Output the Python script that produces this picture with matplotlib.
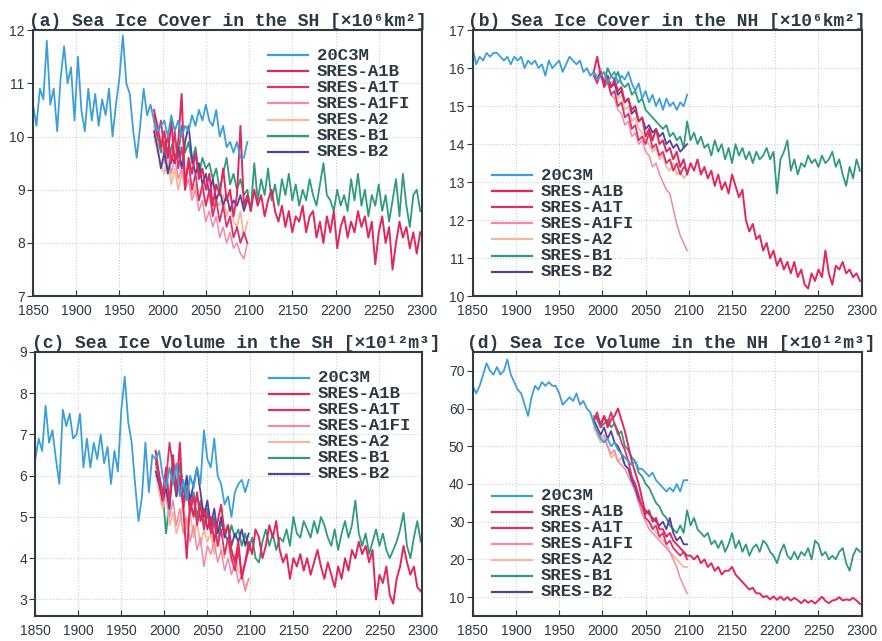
import matplotlib
matplotlib.use('Agg')
import matplotlib.pyplot as plt

# years (every 4th year)
yr_hist = list(range(1850, 2099, 4))
yr_long = list(range(1990, 2299, 4))
yr_short = list(range(1990, 2099, 4))

scenarios = ['20C3M', 'SRES-A1B', 'SRES-A1T', 'SRES-A1FI', 'SRES-A2', 'SRES-B1', 'SRES-B2']
colors = ['#3d9fd8', '#e0285a', '#d8336e', '#f08aa8', '#f2b99a', '#2f9a7e', '#54409e']

# (a) sea ice cover SH
sh_cover_hist = [10.6, 10.2, 10.9, 10.7, 11.8, 10.6, 10.9, 10.1, 11.1, 11.7,
                 11.0, 11.3, 10.3, 11.5, 10.5, 10.1, 10.9, 10.3, 10.8, 10.2,
                 10.7, 10.4, 10.9, 10.0, 10.6, 11.1, 11.9, 11.0, 10.8, 10.1,
                 9.6, 10.2, 10.9, 10.4, 10.6, 10.3, 10.1, 10.2, 10.3, 10.0,
                 10.4, 10.1, 10.3, 10.0, 10.2, 10.1, 10.4, 10.2, 10.5, 10.3,
                 10.6, 10.3, 10.2, 10.5, 10.0, 10.2, 9.8, 9.9, 9.7, 9.9,
                 9.6, 9.6, 9.9]
sh_cover_a1b = [10.5, 10.2, 9.8, 10.1, 9.6, 10.3, 9.5, 9.9, 10.8, 9.0,
                9.6, 9.3, 9.7, 9.2, 9.4, 9.0, 9.3, 8.7, 9.1, 8.9,
                9.4, 8.8, 9.0, 8.5, 8.9, 10.2, 8.7, 8.9, 8.6, 9.0,
                8.7, 8.9, 8.5, 8.8, 9.0, 8.6, 8.4, 8.7, 8.3, 8.6,
                8.2, 8.5, 8.4, 8.7, 8.2, 8.5, 8.6, 8.1, 8.4, 8.0,
                8.5, 8.2, 8.6, 7.9, 8.3, 8.5, 8.1, 8.4, 8.2, 8.6,
                8.3, 8.5, 8.1, 8.4, 7.6, 8.2, 8.5, 8.0, 8.3, 7.5,
                8.0, 8.4, 8.1, 8.3, 7.9, 8.2, 7.8, 8.2]
sh_cover_b1 = [10.3, 10.0, 9.7, 9.9, 9.4, 9.8, 10.0, 9.6, 10.2, 9.7,
               9.9, 9.5, 9.8, 9.3, 9.6, 9.4, 9.5, 9.2, 9.4, 9.0,
               9.3, 9.6, 9.1, 9.3, 9.0, 9.2, 8.9, 9.0, 8.6, 9.5,
               8.8, 9.2, 8.9, 9.4, 8.8, 9.1, 8.7, 9.2, 8.9, 9.3,
               8.8, 9.1, 8.7, 9.0, 8.8, 9.2, 8.9, 8.7, 9.1, 9.5,
               8.9, 8.8, 8.6, 9.0, 8.7, 8.9, 8.6, 9.2, 8.8, 9.3,
               8.7, 9.0, 8.5, 8.9, 8.7, 9.1, 8.6, 8.9, 8.4, 8.8,
               9.2, 8.5, 9.3, 8.7, 8.3, 8.9, 9.0, 8.6]
sh_cover_a1t = [10.4, 10.0, 10.3, 9.7, 10.0, 9.5, 10.1, 9.4, 9.8, 9.2,
                9.5, 9.0, 9.3, 8.8, 9.1, 8.7, 9.0, 8.5, 8.8, 8.4,
                8.7, 8.3, 8.5, 8.1, 8.3, 8.0, 8.2, 8.0]
sh_cover_a1fi = [10.2, 9.8, 10.0, 9.5, 9.8, 9.3, 9.6, 9.2, 9.4, 9.0,
                 9.2, 8.8, 9.0, 8.6, 8.8, 8.4, 8.6, 8.3, 8.5, 8.1,
                 8.3, 8.0, 8.2, 7.9, 8.0, 7.8, 7.7, 8.0]
sh_cover_a2 = [10.0, 9.7, 9.5, 9.3, 9.6, 9.1, 9.4, 9.0, 9.3, 9.1,
               9.2, 8.9, 9.1, 8.8, 9.0, 8.7, 8.9, 8.6, 8.8, 8.7,
               8.9, 8.5, 8.7, 8.4, 8.3, 8.6, 8.1, 8.4]
sh_cover_b2 = [10.1, 9.8, 9.4, 9.7, 9.3, 9.6, 9.5, 9.8, 9.4, 9.9,
               10.2, 9.6, 9.3, 9.5, 9.1, 9.3, 8.9, 9.2, 8.8, 9.0,
               8.7, 8.9, 8.6, 8.8, 8.7, 8.9, 8.6, 8.8]

# (b) sea ice cover NH
nh_cover_hist = [16.5, 16.1, 16.3, 16.2, 16.4, 16.3, 16.4, 16.4, 16.3, 16.2,
                 16.3, 16.1, 16.3, 16.2, 16.3, 16.0, 16.2, 16.1, 16.2, 16.0,
                 16.1, 15.8, 16.2, 16.0, 16.1, 16.2, 15.9, 16.1, 16.3, 16.2,
                 16.1, 16.2, 15.9, 16.0, 15.8, 15.9, 15.7, 15.8, 15.9, 15.6,
                 15.8, 15.9, 15.6, 15.8, 15.7, 15.9, 15.6, 15.4, 15.6, 15.2,
                 15.4, 15.1, 15.3, 15.0, 15.2, 14.9, 15.2, 15.0, 15.1, 14.9,
                 15.1, 15.0, 15.3]
nh_cover_a1b = [15.9, 16.3, 15.8, 15.6, 15.8, 15.5, 15.7, 15.4, 15.5, 15.1,
                15.2, 14.9, 15.0, 14.6, 14.7, 14.2, 14.4, 14.1, 14.4, 14.0,
                14.1, 13.8, 13.9, 13.6, 13.8, 13.4, 13.6, 13.2, 13.5, 13.3,
                13.6, 13.2, 13.4, 13.1, 13.3, 12.9, 13.2, 12.8, 13.0, 12.7,
                13.2, 12.9, 12.6, 12.8, 12.0, 11.7, 11.9, 11.5, 11.6, 11.2,
                11.4, 11.0, 11.2, 10.8, 11.0, 10.7, 10.9, 10.6, 10.9, 10.5,
                10.7, 10.3, 10.2, 10.6, 10.4, 10.7, 10.5, 11.2, 10.6, 10.3,
                10.8, 10.7, 10.9, 10.6, 10.7, 10.5, 10.6, 10.4]
nh_cover_b1 = [15.8, 15.7, 15.9, 15.6, 16.0, 15.8, 15.7, 15.9, 15.6, 15.5,
               15.6, 15.3, 15.4, 15.1, 15.2, 14.9, 14.8, 14.7, 14.6, 14.5,
               14.4, 14.5, 14.2, 14.3, 14.1, 14.2, 13.9, 14.6, 14.1, 14.3,
               14.0, 14.2, 13.9, 14.0, 13.7, 14.1, 13.8, 14.0, 13.6, 13.9,
               13.5, 14.0, 13.7, 13.9, 13.6, 13.8, 13.5, 13.8, 13.6, 13.7,
               13.9, 13.6, 13.8, 12.7, 13.6, 13.8, 14.1, 13.3, 13.6, 13.2,
               13.5, 13.4, 13.7, 13.5, 13.6, 13.4, 13.7, 13.5, 13.6, 13.8,
               13.4, 13.6, 13.2, 12.9, 13.4, 13.1, 13.6, 13.3]
nh_cover_a1t = [15.8, 15.6, 15.9, 15.5, 15.7, 15.3, 15.4, 15.0, 15.1, 14.7,
                14.8, 14.4, 14.5, 14.1, 14.2, 14.0, 14.3, 13.9, 14.0, 13.7,
                13.8, 13.5, 13.6, 13.3, 13.5, 13.2, 13.4, 13.3]
nh_cover_a1fi = [15.9, 15.7, 15.8, 15.5, 15.6, 15.3, 15.2, 14.9, 14.8, 14.5,
                 14.6, 14.2, 14.3, 14.0, 14.1, 13.8, 13.7, 13.4, 13.5, 13.2,
                 13.0, 12.8, 12.7, 12.3, 11.9, 11.6, 11.4, 11.2]
nh_cover_a2 = [15.9, 15.8, 16.0, 15.6, 15.8, 15.5, 15.6, 15.2, 15.3, 14.9,
               15.0, 14.6, 14.7, 14.4, 14.3, 14.1, 14.0, 13.8, 13.9, 13.6,
               13.7, 13.4, 13.3, 13.5, 13.2, 13.3, 13.1, 13.2]
nh_cover_b2 = [15.9, 15.7, 15.9, 15.6, 15.8, 15.5, 15.6, 15.3, 15.4, 15.1,
               15.2, 14.8, 14.9, 14.6, 14.7, 14.4, 14.5, 14.3, 14.4, 14.2,
               14.3, 14.0, 14.1, 13.9, 14.0, 13.8, 13.9, 14.0]

# (c) sea ice volume SH
sh_vol_hist = [6.4, 6.9, 6.6, 7.7, 6.8, 7.1, 6.4, 5.8, 7.6, 7.2,
               7.5, 6.9, 7.0, 7.5, 6.2, 6.9, 6.2, 6.8, 6.4, 7.0,
               6.3, 6.7, 5.8, 6.6, 6.1, 7.6, 8.4, 7.3, 6.8, 5.8,
               4.9, 5.5, 6.8, 5.6, 6.5, 6.4, 6.6, 6.0, 5.7, 6.2,
               5.8, 6.3, 5.5, 5.9, 5.4, 6.0, 5.7, 6.2, 5.8, 7.1,
               6.4, 6.2, 6.9, 6.0, 5.8, 5.3, 5.5, 5.0, 5.6, 5.8,
               5.9, 5.6, 5.9]
sh_vol_a1b = [6.6, 6.0, 5.5, 6.2, 5.3, 6.5, 5.6, 6.8, 5.2, 4.0,
              5.4, 5.0, 5.6, 4.9, 5.2, 4.7, 5.0, 4.4, 4.9, 5.3,
              4.6, 4.8, 4.2, 3.9, 4.4, 3.5, 3.9, 4.4, 4.1, 4.7,
              4.5, 4.0, 4.3, 4.8, 4.5, 4.9, 4.2, 3.9, 4.1, 3.5,
              4.0, 3.8, 4.1, 3.7, 4.0, 3.6, 3.9, 4.2, 3.8, 3.5,
              3.9, 3.6, 3.3, 3.8, 3.5, 4.0, 3.7, 4.2, 4.0, 4.4,
              4.1, 4.3, 3.9, 4.2, 3.0, 3.6, 3.4, 3.8, 3.1, 2.9,
              3.5, 3.8, 4.3, 3.9, 3.6, 3.8, 3.3, 3.2]
sh_vol_b1 = [6.3, 6.0, 5.6, 4.6, 5.4, 6.0, 5.5, 6.3, 5.6, 5.9,
             5.2, 5.6, 5.0, 5.4, 4.8, 5.2, 4.7, 5.0, 4.3, 4.9,
             4.6, 4.4, 4.8, 4.5, 4.7, 4.3, 4.6, 4.2, 4.5, 4.0,
             3.9, 4.4, 4.7, 4.3, 4.6, 4.2, 4.5, 4.4, 4.7, 4.3,
             5.0, 4.6, 4.5, 4.9, 4.7, 4.5, 4.9, 4.6, 5.0, 4.8,
             4.5, 4.3, 4.7, 4.2, 4.6, 4.9, 4.5, 4.8, 5.4, 4.6,
             4.3, 4.6, 4.1, 4.4, 4.7, 4.3, 4.6, 4.2, 4.0, 4.2,
             4.4, 4.7, 5.1, 4.3, 4.0, 4.5, 4.9, 4.4]
sh_vol_a1t = [6.4, 6.0, 5.4, 5.9, 6.8, 6.2, 5.6, 6.0, 5.2, 5.7,
              5.1, 5.5, 4.8, 5.3, 4.7, 5.1, 4.6, 4.9, 4.3, 4.7,
              4.1, 4.5, 4.0, 3.7, 4.2, 3.6, 3.9, 4.2]
sh_vol_a1fi = [6.2, 5.8, 5.3, 5.6, 5.0, 5.4, 4.8, 5.2, 4.6, 5.0,
               4.4, 4.8, 4.2, 4.5, 3.8, 4.3, 4.1, 4.4, 3.9, 4.2,
               3.7, 4.0, 3.6, 3.9, 3.4, 3.6, 3.2, 3.5]
sh_vol_a2 = [6.0, 5.6, 5.2, 5.5, 4.8, 5.1, 4.6, 4.9, 5.3, 4.7,
             5.1, 4.5, 4.9, 4.3, 4.7, 4.4, 4.6, 4.1, 4.5, 4.2,
             4.0, 4.4, 3.9, 4.1, 3.7, 3.6, 3.3, 3.5]
sh_vol_b2 = [6.1, 5.8, 5.4, 5.7, 5.2, 6.3, 5.5, 5.9, 5.3, 6.0,
             5.4, 5.8, 6.2, 5.6, 5.0, 5.4, 4.8, 5.2, 4.6, 5.0,
             4.5, 4.8, 4.3, 4.6, 4.4, 4.7, 4.3, 4.6]

# (d) sea ice volume NH
nh_vol_hist = [66, 64, 66, 69, 72, 70, 69, 71, 69, 70,
               73, 69, 67, 65, 64, 61, 58, 63, 66, 65,
               67, 66, 67, 66, 66, 64, 61, 62, 63, 62,
               64, 61, 62, 60, 59, 56, 54, 52, 51, 52,
               50, 51, 49, 48, 47, 46, 45, 46, 44, 44,
               43, 42, 43, 41, 40, 39, 38, 39, 38, 40,
               38, 41, 41]
nh_vol_a1b = [57, 58, 56, 58, 55, 57, 58, 60, 57, 54,
              50, 46, 43, 40, 36, 32, 33, 30, 31, 28,
              28, 26, 27, 25, 24, 23, 22, 21, 21, 20,
              21, 19, 20, 18, 19, 17, 18, 16, 17, 17,
              18, 16, 15, 14, 13, 12, 12.5, 11, 11, 10,
              10.3, 9.4, 10.2, 9.3, 10.1, 9.2, 10, 9.1, 9.8, 9.2,
              8.4, 9.3, 8.5, 9.1, 8.3, 9.2, 10.1, 9, 8.4, 9.1,
              9.3, 10, 9.1, 9.4, 9.2, 9.8, 9.1, 8.2]
nh_vol_b1 = [58, 57, 55, 56, 57, 55, 56, 53, 54, 50,
             49, 47, 46, 43, 42, 40, 39, 37, 35, 34,
             32, 31, 29, 28, 27, 29, 27, 33, 29, 31,
             28, 27, 26, 27, 24, 25, 23, 25, 22, 24,
             27, 23, 25, 22, 24, 21, 23, 24, 22, 25,
             24, 22, 21, 19, 22, 24, 21, 20, 22, 20,
             22, 21, 23, 20, 25, 24, 21, 22, 20, 21,
             20, 22, 23, 19, 17, 21, 23, 22]
nh_vol_a1t = [57, 59, 55, 58, 56, 59, 56, 54, 51, 49,
              46, 42, 40, 37, 34, 31, 30, 28, 29, 26,
              27, 24, 25, 23, 22, 21, 22, 20]
nh_vol_a1fi = [56, 54, 52, 53, 50, 48, 49, 46, 45, 44,
               42, 40, 38, 35, 32, 30, 28, 27, 26, 25,
               24, 23, 22, 20, 18, 15, 13, 11]
nh_vol_a2 = [55, 53, 51, 52, 50, 47, 48, 46, 47, 45,
             44, 41, 38, 35, 33, 31, 30, 29, 27, 26,
             25, 24, 22, 21, 20, 19, 18, 18]
nh_vol_b2 = [57, 55, 53, 55, 52, 54, 51, 50, 48, 45,
             44, 41, 39, 36, 34, 33, 32, 31, 30, 29,
             30, 28, 31, 27, 25, 26, 24, 24]

titles = ['(a) Sea Ice Cover in the SH [×10⁶km²]',
          '(b) Sea Ice Cover in the NH [×10⁶km²]',
          '(c) Sea Ice Volume in the SH [×10¹²m³]',
          '(d) Sea Ice Volume in the NH [×10¹²m³]']

panels = [
    (sh_cover_hist, sh_cover_a1b, sh_cover_a1t, sh_cover_a1fi, sh_cover_a2, sh_cover_b1, sh_cover_b2),
    (nh_cover_hist, nh_cover_a1b, nh_cover_a1t, nh_cover_a1fi, nh_cover_a2, nh_cover_b1, nh_cover_b2),
    (sh_vol_hist, sh_vol_a1b, sh_vol_a1t, sh_vol_a1fi, sh_vol_a2, sh_vol_b1, sh_vol_b2),
    (nh_vol_hist, nh_vol_a1b, nh_vol_a1t, nh_vol_a1fi, nh_vol_a2, nh_vol_b1, nh_vol_b2),
]
ylims = [(7, 12), (10, 17), (2.6, 9), (5, 75)]
yticks = [range(7, 13), range(10, 18), range(3, 10), range(10, 71, 10)]
# axes boxes [left, bottom, width, height]
boxes = [[0.0374, 0.538, 0.441, 0.415],
         [0.536, 0.538, 0.441, 0.415],
         [0.040, 0.039, 0.439, 0.412],
         [0.536, 0.039, 0.441, 0.412]]
# legend anchor (line start x, first row y) in axes fraction
leg_pos = [(0.604, 0.906), (0.049, 0.455), (0.604, 0.902), (0.049, 0.455)]
title_x = [0.5, 0.5, 0.52, 0.51]

txtcol = '#2b3944'
mono = ['Liberation Mono', 'DejaVu Sans Mono']

fig = plt.figure(figsize=(8.82, 6.41), dpi=100)

for k in range(4):
    ax = fig.add_axes(boxes[k])
    hist, a1b, a1t, a1fi, a2, b1, b2 = panels[k]
    ax.plot(yr_long, b1, color=colors[5], lw=1.3)
    ax.plot(yr_short, a2, color=colors[4], lw=1.3)
    ax.plot(yr_short, a1fi, color=colors[3], lw=1.1)
    ax.plot(yr_short, b2, color=colors[6], lw=1.3)
    ax.plot(yr_short, a1t, color=colors[2], lw=1.3)
    ax.plot(yr_long, a1b, color=colors[1], lw=1.4)
    ax.plot(yr_hist, hist, color=colors[0], lw=1.3)

    ax.set_xlim(1850, 2300)
    ax.set_ylim(*ylims[k])
    ax.set_xticks(range(1850, 2301, 50))
    ax.set_yticks(list(yticks[k]))
    ax.grid(True, linestyle=':', color='#a8aeb4', lw=0.8, alpha=0.6)
    ax.tick_params(axis='x', direction='in', length=4, pad=6, labelsize=10, colors=txtcol)
    ax.tick_params(axis='y', direction='out', length=4, pad=2, labelsize=10, colors=txtcol)
    for lab in ax.get_xticklabels() + ax.get_yticklabels():
        lab.set_fontfamily('Liberation Sans')
    for sp in ax.spines.values():
        sp.set_color('#333b42')
        sp.set_linewidth(1.5)

    ax.set_title(titles[k], fontfamily=mono, fontweight='bold', fontsize=13,
                 color=txtcol, pad=3, x=title_x[k])

    # legend
    x0, y0 = leg_pos[k]
    for i in range(len(scenarios)):
        yy = y0 - i * 0.0605
        ax.plot([x0, x0 + 0.103], [yy, yy], color=colors[i], lw=1.6,
                transform=ax.transAxes, clip_on=False)
        ax.text(x0 + 0.126, yy, scenarios[i], transform=ax.transAxes,
                fontfamily=mono, fontweight='bold', fontsize=12.5,
                color=txtcol, va='center', ha='left')

fig.savefig('out.png', dpi=100)
